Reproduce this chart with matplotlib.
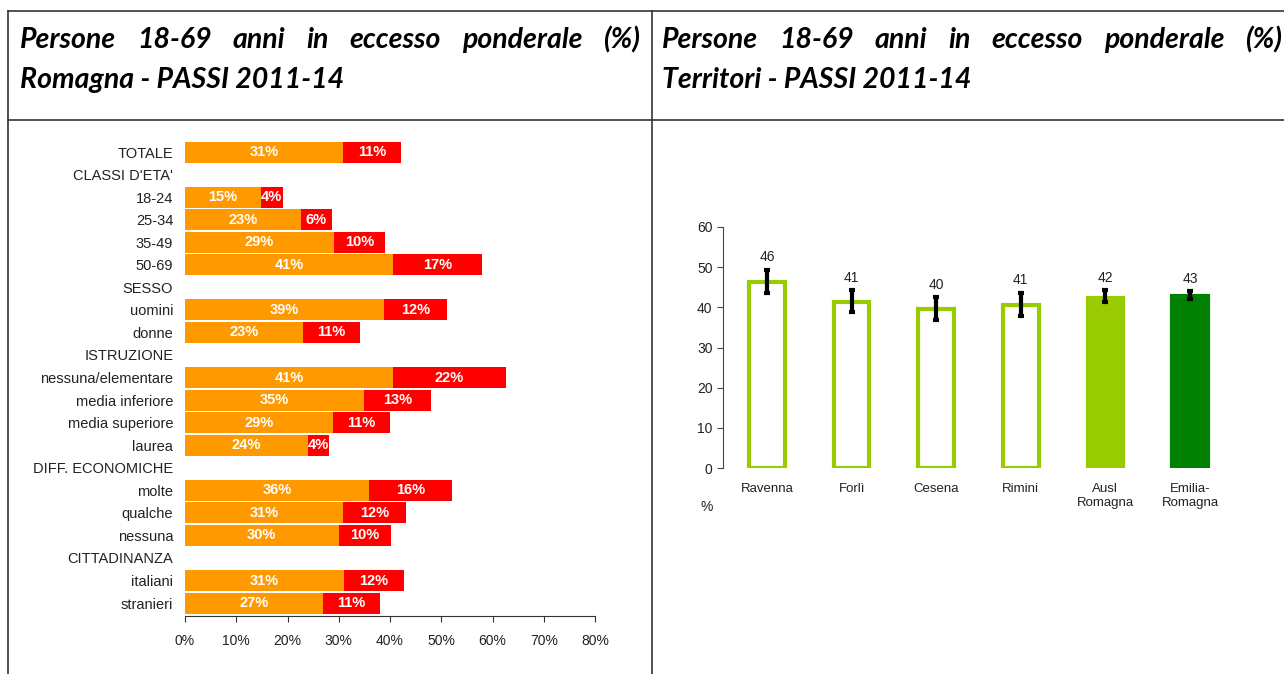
import numpy as np
import matplotlib
matplotlib.use('Agg')
import matplotlib.pyplot as plt
from matplotlib.lines import Line2D
from matplotlib.ticker import FuncFormatter

# ---- data: left chart (sovrappeso / obesi, %) ----
rows = ['TOTALE', "CLASSI D'ETA'", '18-24', '25-34', '35-49', '50-69',
        'SESSO', 'uomini', 'donne',
        'ISTRUZIONE', 'nessuna/elementare', 'media inferiore', 'media superiore', 'laurea',
        'DIFF. ECONOMICHE', 'molte', 'qualche', 'nessuna',
        'CITTADINANZA', 'italiani', 'stranieri']
nan = np.nan
sovrappeso = [30.8, nan, 14.8, 22.6, 29.1, 40.6,
              nan, 38.8, 23.0,
              nan, 40.6, 34.9, 28.9, 24.0,
              nan, 35.9, 30.8, 30.0,
              nan, 31.0, 26.9]
obesi = [11.3, nan, 4.3, 6.1, 9.9, 17.3,
         nan, 12.3, 11.1,
         nan, 22.0, 13.1, 11.1, 4.1,
         nan, 16.2, 12.3, 10.2,
         nan, 11.7, 11.1]

# ---- data: right chart (territori) ----
territori = ['Ravenna', 'Forlì', 'Cesena', 'Rimini', 'Ausl\nRomagna', 'Emilia-\nRomagna']
valori = [46.2, 41.4, 39.6, 40.6, 42.4, 42.9]
ic_inf = [43.5, 38.8, 36.8, 37.8, 41.3, 42.0]
ic_sup = [49.3, 44.3, 42.5, 43.6, 44.3, 44.0]

W, H = 1284, 674
ORANGE = '#FF9900'
RED = '#FF0000'
LGREEN = '#99CC00'
DGREEN = '#008000'
TXT = '#222222'

plt.rcParams['font.family'] = ['Liberation Sans', 'DejaVu Sans']

fig = plt.figure(figsize=(W / 100, H / 100), dpi=100)

def fx(px):
  return px / W

def fy(py):
  return 1 - py / H

# table lines
for (x0, y0, x1, y1) in [(8, 11, W, 11), (8, 120, W, 120), (8, 11, 8, H), (652, 11, 652, H)]:
  fig.add_artist(Line2D([fx(x0), fx(x1)], [fy(y0), fy(y1)], color='#333333', lw=1.2,
                        transform=fig.transFigure))

# titles (first line justified like the table cell)
title_kw = dict(fontsize=20.5, fontweight='bold', fontstyle='italic', family=['Lato', 'DejaVu Sans'],
                va='center', color='black')
renderer = fig.canvas.get_renderer()

def justified(text, x0, x1, y):
  words = text.split()
  ts = [fig.text(0, fy(y), w, **title_kw) for w in words]
  widths = [t.get_window_extent(renderer).width for t in ts]
  gap = (x1 - x0 - sum(widths)) / (len(words) - 1)
  x = x0
  for t, w in zip(ts, widths):
    t.set_x(fx(x))
    x += w + gap

line1 = 'Persone 18-69 anni in eccesso ponderale (%)'
justified(line1, 20, 640, 40)
fig.text(fx(20), fy(80), 'Romagna - PASSI 2011-14', **title_kw)
justified(line1, 662, 1282, 40)
fig.text(fx(662), fy(80), 'Territori - PASSI 2011-14', **title_kw)

# ---- left chart ----
ax = fig.add_axes([fx(185), fy(615.7), fx(595) - fx(185), fy(139.4) - fy(615.7)])
idx = [i for i, v in enumerate(sovrappeso) if not np.isnan(v)]
sv = [sovrappeso[i] for i in idx]
ob = [obesi[i] for i in idx]
b1 = ax.barh(idx, sv, height=0.93, color=ORANGE)
b2 = ax.barh(idx, ob, left=sv, height=0.93, color=RED)
ax.bar_label(b1, labels=['%.0f%%' % v for v in sv], label_type='center',
             color='white', fontweight='bold', fontsize=10.5)
ax.bar_label(b2, labels=['%.0f%%' % v for v in ob], label_type='center',
             color='white', fontweight='bold', fontsize=10.5)
ax.set_ylim(len(rows) - 0.44, -0.56)
ax.set_yticks(range(len(rows)))
ax.set_yticklabels(rows, fontsize=10.5, color=TXT)
ax.tick_params(axis='y', length=0, pad=8.5)
ax.set_xlim(0, 80)
ax.set_xticks(range(0, 81, 10))
ax.xaxis.set_major_formatter(FuncFormatter(lambda v, p: '%d%%' % v))
ax.tick_params(axis='x', length=4, direction='out', labelsize=10, labelcolor=TXT, pad=9,
               color='#333333')
for s in ['top', 'right', 'left']:
  ax.spines[s].set_visible(False)
ax.spines['bottom'].set_color('#333333')

# ---- right chart ----
ax2 = fig.add_axes([fx(723), fy(468), fx(1234) - fx(723), fy(227) - fy(468)])
x = np.arange(len(territori))
faces = ['white', 'white', 'white', 'white', LGREEN, DGREEN]
edges = [LGREEN, LGREEN, LGREEN, LGREEN, LGREEN, DGREEN]
ax2.bar(x, valori, width=0.42, color=faces, edgecolor=edges, linewidth=3)
v = np.array(valori)
ax2.errorbar(x, v, yerr=[v - np.array(ic_inf), np.array(ic_sup) - v], fmt='none',
             ecolor='black', elinewidth=3, capsize=2.5, capthick=3)
for xi, vi, hi in zip(x, valori, ic_sup):
  ax2.annotate('%.0f' % vi, (xi, hi), xytext=(0, 4), textcoords='offset points',
               ha='center', va='bottom', fontsize=10, color=TXT)
ax2.set_xlim(-0.52, len(territori) - 0.48)
ax2.set_ylim(0, 60)
ax2.set_yticks(range(0, 61, 10))
ax2.set_xticks(x)
ax2.set_xticklabels(territori, fontsize=9.5, color=TXT, linespacing=1.2)
ax2.tick_params(axis='x', length=0, pad=11)
ax2.tick_params(axis='y', length=4, direction='out', labelsize=10, labelcolor=TXT, color='#444444')
for s in ['top', 'right', 'bottom']:
  ax2.spines[s].set_visible(False)
ax2.spines['left'].set_color('#444444')
ax2.text(-0.031, -0.162, '%', transform=ax2.transAxes, fontsize=10, color=TXT,
         ha='center', va='center')

fig.savefig('out.png', dpi=100)
